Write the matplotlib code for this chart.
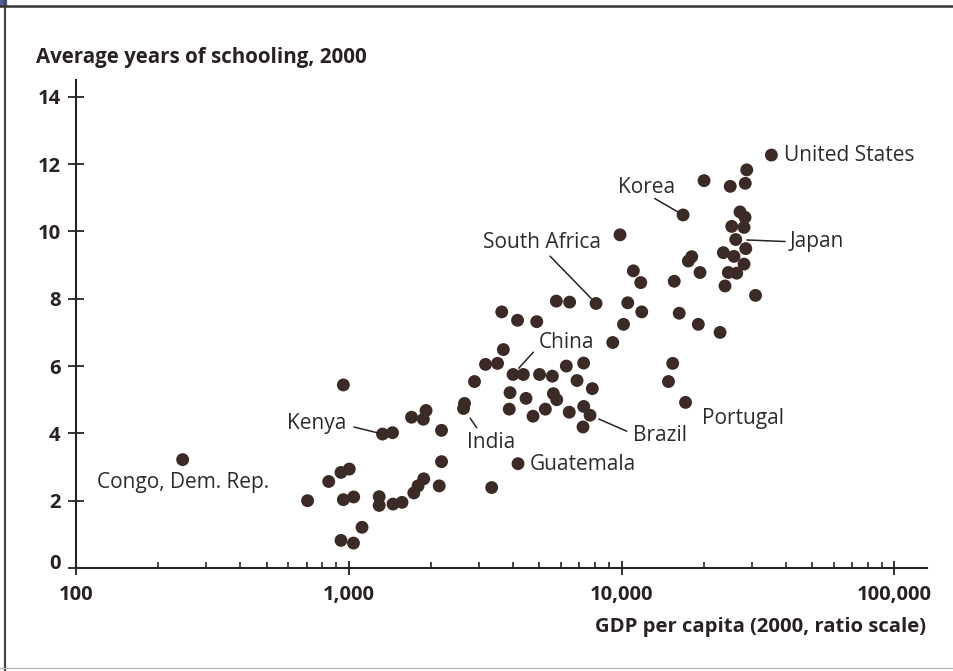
import matplotlib
matplotlib.use("Agg")
import matplotlib.pyplot as plt
from matplotlib.lines import Line2D
from matplotlib.patches import Rectangle
from matplotlib.ticker import FixedLocator, NullFormatter
from matplotlib.transforms import ScaledTranslation

plt.rcParams['font.family'] = ['Open Sans', 'DejaVu Sans']

# GDP per capita (2000 dollars) and average years of schooling, unlabeled countries
gdp = [706, 844, 936, 1004, 955, 955, 1042, 936, 1040, 1118,
       1292, 1292, 1452, 1567, 1446, 1698, 1876, 1919, 1731, 1794,
       1882, 2145, 2187, 2187, 2655, 2889, 3170, 3509, 3685, 3636,
       4154, 4885, 5763, 6448, 10530, 11850, 10160, 9277, 4362, 5002,
       5572, 6271, 7256, 6863, 7808, 3899, 4462, 5620, 5783, 3873,
       4734, 5253, 6426, 7262, 7219, 3340, 9865, 11040, 11750, 16260,
       19100, 22950, 15390, 14850, 15590, 18070, 17560, 19380, 20050, 25010,
       28390, 28750, 27160, 28340, 25330, 28100, 28510, 23600, 25820, 28100,
       24610, 26420, 23930, 30960]
school = [2.00, 2.57, 2.84, 2.94, 5.44, 2.03, 2.11, 0.82, 0.74, 1.21,
          2.12, 1.86, 1.90, 1.95, 4.02, 4.48, 4.42, 4.68, 2.23, 2.44,
          2.65, 2.44, 3.16, 4.09, 4.89, 5.54, 6.05, 6.08, 6.49, 7.61,
          7.36, 7.32, 7.93, 7.90, 7.88, 7.61, 7.24, 6.70, 5.75, 5.75,
          5.70, 6.00, 6.09, 5.57, 5.33, 5.21, 5.04, 5.18, 5.00, 4.72,
          4.51, 4.72, 4.63, 4.80, 4.19, 2.39, 9.90, 8.83, 8.48, 7.57,
          7.24, 7.00, 6.08, 5.54, 8.52, 9.25, 9.12, 8.78, 11.51, 11.34,
          11.43, 11.83, 10.58, 10.42, 10.15, 10.12, 9.49, 9.37, 9.26, 9.03,
          8.78, 8.76, 8.38, 8.10]

# labeled countries
named = ['United States', 'Korea', 'South Africa', 'Japan', 'China', 'Kenya',
         'India', 'Brazil', 'Guatemala', 'Portugal', 'Congo, Dem. Rep.']
named_gdp = [35400, 16800, 8060, 26200, 4000, 1329, 2633, 7660, 4171, 17150, 246]
named_school = [12.27, 10.49, 7.86, 9.76, 5.75, 3.98, 4.74, 4.54, 3.10, 4.92, 3.22]

x_ticks = [100, 1000, 10000, 100000]
x_ticklabels = ['100', '1,000', '10,000', '100,000']
y_ticks = [0, 2, 4, 6, 8, 10, 12, 14]

# label placement: text offset (px), leader start offset (px), gap to dot (pt)
label_layout = {
    'United States': ((12.5, 0), None, 0),
    'Korea': ((-65, 27.7), (-28.3, 16.4), 3.5),
    'South Africa': ((-112.7, 61), (-46, 47.3), 5),
    'Japan': ((54.3, -1.7), (49.3, -2), 8),
    'China': ((25.3, 32), (20.3, 22.3), 6),
    'Kenya': ((-95.8, 11), (-28.5, 7), 2.6),
    'India': ((3.2, -34.3), (13.2, -19.3), 8.5),
    'Brazil': ((43.3, -20.3), (36.7, -16), 7),
    'Guatemala': ((12, -1.2), None, 0),
    'Portugal': ((16.8, -15.6), None, 0),
    'Congo, Dem. Rep.': ((-86, -22.7), None, 0),
}

ink = '#2a2222'
dot = '#3b2a26'
label_color = '#2f2b2b'

fig = plt.figure(figsize=(9.54, 6.71), dpi=100)
fig.patch.set_facecolor('white')
ax = fig.add_axes([76 / 954, 103 / 671, 850.7 / 954, 488 / 671])

ax.scatter(gdp, school, s=86, color=dot, edgecolors='none', zorder=3)
ax.scatter(named_gdp, named_school, s=86, color=dot, edgecolors='none', zorder=3)

ax.set_xscale('log')
ax.set_xlim(100, 131300)
ax.set_ylim(0, 14.5)

for s in ['top', 'right']:
    ax.spines[s].set_visible(False)
for s in ['left', 'bottom']:
    ax.spines[s].set_color(ink)
    ax.spines[s].set_linewidth(1.5)

ax.xaxis.set_major_locator(FixedLocator(x_ticks))
ax.set_xticklabels(x_ticklabels)
minor = [m * d for d in (100, 1000, 10000) for m in range(2, 10)]
ax.xaxis.set_minor_locator(FixedLocator(minor))
ax.xaxis.set_minor_formatter(NullFormatter())
ax.set_yticks(y_ticks)

ax.tick_params(axis='x', which='major', direction='inout', length=9.5, width=1.3,
               color=ink, pad=7.5, labelsize=14.5, labelcolor=ink)
ax.tick_params(axis='x', which='minor', direction='in', length=4.5, width=1.2, color=ink)
ax.tick_params(axis='y', which='major', direction='inout', length=12, width=1.3,
               color=ink, pad=5, labelsize=14.5, labelcolor=ink)
for lab in ax.get_xticklabels() + ax.get_yticklabels():
    lab.set_fontweight('bold')

# the zero label sits a little above the x axis
zero = ax.get_yticklabels()[0]
zero.set_transform(zero.get_transform() + ScaledTranslation(0, 5 / 72, fig.dpi_scale_trans))

for name, gx, sy in zip(named, named_gdp, named_school):
    (tx, ty), lead, gap = label_layout[name]
    ax.annotate(name, xy=(gx, sy), xytext=(tx, ty), textcoords='offset pixels',
                ha='left', va='center', fontsize=15, color=label_color)
    if lead is not None:
        ax.annotate('', xy=(gx, sy), xytext=lead, textcoords='offset pixels',
                    arrowprops=dict(arrowstyle='-', color=ink, lw=1.1,
                                    shrinkA=0, shrinkB=gap))

fig.text(36 / 954, 1 - 58 / 671, 'Average years of schooling, 2000',
         ha='left', va='center', fontsize=14.8, fontweight='bold', color=ink)
fig.text(926 / 954, 1 - 627 / 671, 'GDP per capita (2000, ratio scale)',
         ha='right', va='center', fontsize=14.6, fontweight='bold', color=ink)

# page frame around the figure
fig.add_artist(Line2D([5.5 / 954, 5.5 / 954], [0, 1], color='#4a4444', lw=1.6,
                      transform=fig.transFigure))
fig.add_artist(Line2D([0, 1], [1 - 5.5 / 671, 1 - 5.5 / 671], color='#3a3434', lw=1.8,
                      transform=fig.transFigure))
fig.add_artist(Line2D([0, 1], [3 / 671, 3 / 671], color='#b8b4b4', lw=0.8,
                      transform=fig.transFigure))
fig.add_artist(Rectangle((0, 1 - 6 / 671), 6 / 954, 6 / 671, color='#4f5f9c',
                         transform=fig.transFigure))

fig.savefig('out.png', dpi=100)
